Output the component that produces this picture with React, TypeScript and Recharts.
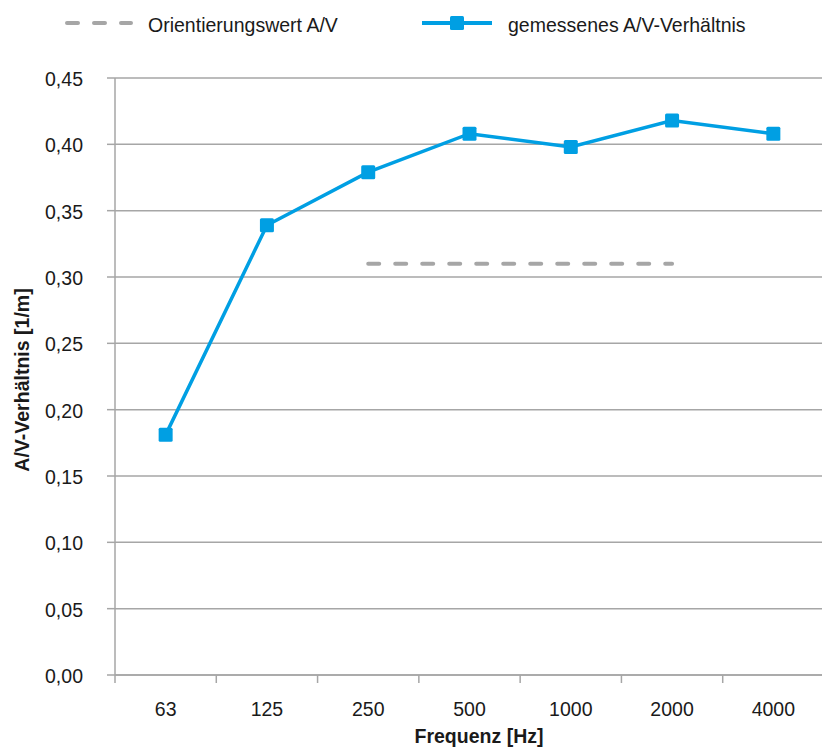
import React from "react";
import { LineChart, Line, XAxis, YAxis, CartesianGrid } from "recharts";

const frequencies = ["63", "125", "250", "500", "1000", "2000", "4000"];
const measured = [0.181, 0.339, 0.379, 0.408, 0.398, 0.418, 0.408];
const orientation = [null, null, 0.31, 0.31, 0.31, 0.31, null];
const yTicks = [0, 0.05, 0.1, 0.15, 0.2, 0.25, 0.3, 0.35, 0.4, 0.45];

const data = frequencies.map((f, i) => ({
  freq: f,
  measured: measured[i],
  orientation: orientation[i],
}));

const FONT = "'Liberation Sans', Arial, sans-serif";
const GRID = "#a6a6a6";
const BLUE = "#009fe3";
const TEXT = "#1a1a1a";
const WIDTH = 824;
const HEIGHT = 751;
const LEFT = 115;
const BAND = (WIDTH - LEFT) / frequencies.length;
const NARROW = 0.93;

const formatY = (v: number) => v.toFixed(2).replace(".", ",");

// condensed-looking text: squeeze Liberation Sans horizontally
const Narrow = ({ x, y, anchor = "start", bold = false, children }: any) => (
  <g transform={`translate(${x},${y}) scale(${NARROW},1)`}>
    <text
      x={0}
      y={0}
      textAnchor={anchor}
      fontSize={21}
      fontWeight={bold ? "bold" : "normal"}
      fill={TEXT}
      fontFamily={FONT}
    >
      {children}
    </text>
  </g>
);

const XTick = (props: any) => {
  const { x, y, payload, index } = props;
  const last = index === frequencies.length - 1;
  return (
    <g>
      <line x1={x - BAND / 2} x2={x - BAND / 2} y1={y - 8} y2={y} stroke={GRID} strokeWidth={1.5} />
      {last && (
        <line x1={x + BAND / 2} x2={x + BAND / 2} y1={y - 8} y2={y} stroke={GRID} strokeWidth={1.5} />
      )}
      <Narrow x={x} y={y + 33} anchor="middle">
        {payload.value}
      </Narrow>
    </g>
  );
};

const YTick = (props: any) => {
  const { x, y, payload } = props;
  return (
    <Narrow x={x - 24} y={y + 8} anchor="end">
      {formatY(payload.value)}
    </Narrow>
  );
};

const LegendBox = () => (
  <svg width={822} height={50} style={{ position: "absolute", left: 0, top: 0 }}>
    <line
      x1={67}
      x2={131}
      y1={23}
      y2={23}
      stroke={GRID}
      strokeWidth={4}
      strokeLinecap="round"
      strokeDasharray="11 16"
    />
    <Narrow x={148} y={32}>Orientierungswert A/V</Narrow>
    <line x1={422} x2={492} y1={23} y2={23} stroke={BLUE} strokeWidth={4} />
    <rect x={450} y={16} width={14} height={14} rx={1.5} fill={BLUE} />
    <Narrow x={508} y={32}>gemessenes A/V-Verhältnis</Narrow>
  </svg>
);

const SquareDot = (props: any) => {
  const { cx, cy } = props;
  if (cx == null || cy == null) return null;
  return <rect x={cx - 7} y={cy - 7} width={14} height={14} rx={1.5} fill={BLUE} />;
};

export default function App() {
  return (
    <div
      style={{
        position: "absolute",
        left: 0,
        top: 0,
        width: 822,
        height: 751,
        overflow: "hidden",
        background: "#fff",
      }}
    >
      <LineChart
        width={WIDTH}
        height={HEIGHT}
        data={data}
        margin={{ top: 78, right: 0, bottom: 46, left: 0 }}
      >
        <CartesianGrid vertical={false} stroke={GRID} strokeWidth={1.5} />
        <XAxis
          dataKey="freq"
          stroke={GRID}
          strokeWidth={1.5}
          tickLine={false}
          tickSize={8}
          tickMargin={0}
          height={30}
          interval={0}
          padding={{ left: BAND / 2, right: BAND / 2 }}
          tick={<XTick />}
          label={{
            content: () => (
              <Narrow x={479} y={743} anchor="middle" bold>
                Frequenz [Hz]
              </Narrow>
            ),
          }}
        />
        <YAxis
          width={LEFT}
          domain={[0, 0.45]}
          ticks={yTicks}
          stroke={GRID}
          strokeWidth={1.5}
          tickSize={8}
          tickMargin={0}
          tick={<YTick />}
          label={{
            content: () => (
              <g transform="rotate(-90 29 380)">
                <Narrow x={29} y={380} anchor="middle" bold>
                  A/V-Verhältnis [1/m]
                </Narrow>
              </g>
            ),
          }}
        />
        <Line
          dataKey="orientation"
          stroke={GRID}
          strokeWidth={4}
          strokeLinecap="round"
          strokeDasharray="11 16"
          dot={false}
          activeDot={false}
          isAnimationActive={false}
        />
        <Line
          dataKey="measured"
          stroke={BLUE}
          strokeWidth={3.5}
          dot={<SquareDot />}
          activeDot={false}
          isAnimationActive={false}
        />
      </LineChart>
      <LegendBox />
    </div>
  );
}
